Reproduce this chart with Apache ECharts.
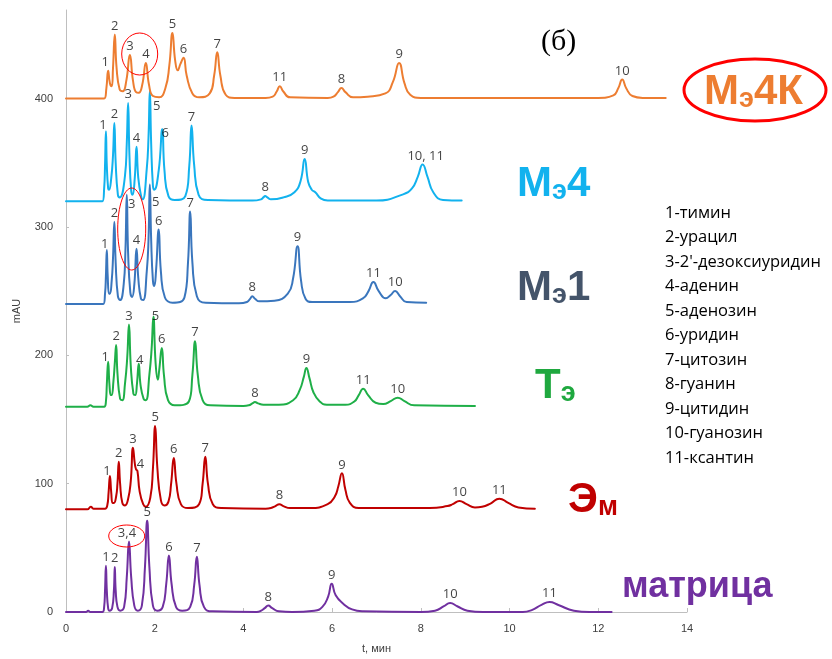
<!DOCTYPE html>
<html>
<head>
<meta charset="utf-8">
<script src="https://cdn.jsdelivr.net/npm/echarts@6/dist/echarts.min.js"></script>
<style>
  html, body { margin: 0; padding: 0; background: #fff; }
  #chart { width: 832px; height: 659px; }
</style>
</head>
<body>
<div id="chart"></div>
<script>
// Chromatograms: [time, min ; signal above own baseline, mAU]
const matrixTrace = [[0,0],[0.45,0],[0.50,1],[0.55,0],[0.82,0],[0.86,4],[0.88,17],[0.90,36],[0.92,17],[0.95,3],[0.98,1],[1.04,3],[1.08,17],[1.10,35],[1.12,17],[1.16,4],[1.22,1],[1.31,4],[1.37,27],[1.42,55],[1.47,27],[1.54,5],[1.62,1],[1.71,5],[1.78,35],[1.83,71],[1.88,35],[1.96,5],[2.06,1],[2.18,4],[2.26,22],[2.32,44],[2.38,22],[2.48,4],[2.62,1],[2.80,4],[2.89,21],[2.95,43],[3.01,21],[3.11,4],[3.30,0.5],[4.30,0],[4.40,1],[4.48,3],[4.56,5],[4.65,3],[4.80,0.5],[5.10,0],[5.60,1],[5.78,4],[5.91,12],[5.99,22],[6.08,13],[6.25,6.5],[6.45,2],[6.70,0.5],[8.00,0],[8.32,1],[8.52,4.5],[8.66,7],[8.82,4.5],[9.05,1],[9.40,0],[10.30,0],[10.50,1.5],[10.72,5.5],[10.90,7.8],[11.10,5.5],[11.45,1],[11.80,0],[12.30,0]];
const emTrace = [[0,0],[0.48,0],[0.56,2],[0.62,0.5],[0.88,0.5],[0.93,3],[0.96,13],[0.99,26],[1.02,13],[1.05,5],[1.08,5],[1.13,10],[1.16,20],[1.19,37],[1.22,20],[1.27,5],[1.33,3],[1.40,8],[1.46,22],[1.51,48],[1.55,36],[1.58,31],[1.61,30],[1.66,14],[1.74,4],[1.80,2],[1.90,9],[1.96,32],[2.01,65],[2.06,32],[2.14,7],[2.22,3],[2.31,6],[2.37,20],[2.43,40],[2.49,20],[2.59,4],[2.75,1],[3.00,4],[3.08,20],[3.14,41],[3.20,20],[3.31,4],[3.50,1],[4.50,0.5],[4.62,1],[4.72,2.5],[4.81,4],[4.90,2.5],[5.05,1],[5.50,1],[5.90,4],[6.06,10],[6.14,18],[6.22,28],[6.30,15],[6.40,5],[6.60,1],[8.20,1],[8.60,2.5],[8.72,4],[8.87,6.5],[9.03,4],[9.22,1.5],[9.38,2],[9.57,4.5],[9.77,8.3],[9.97,5],[10.20,1.5],[10.57,0.5]];
const teTrace = [[0,0],[0.48,0],[0.55,1],[0.62,0],[0.86,0],[0.90,4],[0.92,17],[0.95,35],[0.98,17],[1.01,9],[1.03,9],[1.07,20],[1.10,34],[1.13,48],[1.16,26],[1.22,6],[1.27,5],[1.33,18],[1.38,38],[1.42,64],[1.46,32],[1.52,10],[1.56,9],[1.60,18],[1.64,33.5],[1.68,17],[1.75,6],[1.80,5],[1.88,25],[1.93,45],[1.97,70],[2.02,34],[2.07,21],[2.10,28],[2.16,45.6],[2.21,24],[2.30,5],[2.45,1],[2.77,4],[2.85,25],[2.91,51],[2.97,25],[3.08,5],[3.25,1],[4.00,0.5],[4.12,1],[4.20,2.5],[4.26,3.6],[4.33,2.5],[4.45,1.5],[4.80,1.5],[5.12,5],[5.27,13],[5.36,23],[5.42,30],[5.49,22],[5.58,11],[5.72,4],[5.88,1.5],[6.30,1.5],[6.50,4],[6.60,9],[6.70,14],[6.81,9],[6.98,3],[7.15,2],[7.33,4.5],[7.48,7],[7.62,4.5],[7.85,1],[9.22,0.5]];
const me1Trace = [[0,0],[0.84,0],[0.88,8],[0.90,22],[0.92,42],[0.94,22],[0.97,8],[0.99,8],[1.03,18],[1.06,36],[1.09,64],[1.12,32],[1.17,6],[1.22,3],[1.30,15],[1.34,42],[1.37,85],[1.40,40],[1.45,9],[1.49,5.5],[1.54,15],[1.59,43],[1.63,20],[1.69,4],[1.74,3],[1.82,25],[1.86,50],[1.89,93],[1.92,50],[1.96,18],[1.99,14],[2.03,26],[2.09,58],[2.14,25],[2.23,5],[2.40,1],[2.67,5],[2.75,32],[2.80,72],[2.85,32],[2.95,6],[3.15,1],[3.90,0.5],[4.08,1.5],[4.15,4],[4.20,6],[4.26,4],[4.36,2],[4.70,2.5],[5.00,8],[5.12,20],[5.22,45],[5.30,18],[5.40,4],[5.55,1.5],[6.40,1.5],[6.70,4.5],[6.82,10],[6.93,17],[7.05,10],[7.21,4.4],[7.32,7],[7.42,10],[7.53,6],[7.68,1.5],[8.12,1]];
const me4Trace = [[0,0],[0.82,0],[0.86,10],[0.88,28],[0.90,54.6],[0.92,28],[0.95,10],[0.97,9],[1.02,18],[1.06,36],[1.09,61],[1.12,30],[1.17,5],[1.21,3],[1.33,20],[1.37,45],[1.40,76.6],[1.43,36],[1.47,8],[1.50,5],[1.55,18],[1.59,42.5],[1.63,18],[1.70,3],[1.73,1.5],[1.82,25],[1.86,50],[1.89,86],[1.92,45],[1.96,12],[1.99,9],[2.09,24],[2.17,56],[2.22,24],[2.31,4],[2.45,1],[2.69,4],[2.78,28],[2.83,59],[2.89,28],[2.99,5],[3.20,1],[4.20,0.5],[4.40,1.5],[4.45,3],[4.49,4],[4.54,3],[4.62,1.5],[4.90,3],[5.15,7],[5.29,16],[5.38,33],[5.46,15],[5.54,9],[5.62,7],[5.75,2],[5.90,0.5],[7.00,0.5],[7.60,5.4],[7.80,10],[7.93,19],[8.04,28.7],[8.15,19],[8.28,7],[8.50,1],[8.92,0.5]];
const me4kTrace = [[0,0],[0.86,0],[0.91,8],[0.95,21.7],[0.99,12],[1.03,9.6],[1.06,24],[1.10,50],[1.14,24],[1.21,7],[1.28,5.7],[1.36,14],[1.44,34],[1.51,14],[1.58,5],[1.64,4.5],[1.72,11],[1.80,27.7],[1.87,11],[1.96,2],[2.10,1],[2.24,8],[2.33,26],[2.40,51],[2.46,30],[2.52,22],[2.58,27],[2.65,31.8],[2.72,18],[2.85,4],[3.00,1],[3.24,4],[3.34,18],[3.41,36],[3.48,18],[3.60,3],[3.80,0.5],[4.50,0.5],[4.66,1.5],[4.75,5.5],[4.82,9.6],[4.90,5.5],[5.05,1],[5.90,0.5],[6.03,1.5],[6.13,5],[6.21,8.3],[6.30,5],[6.47,1],[6.80,1.5],[7.20,4],[7.37,13],[7.51,27.7],[7.63,12],[7.76,3],[8.00,0.5],[12.00,0.5],[12.34,2.5],[12.45,8],[12.54,14.8],[12.63,8],[12.77,2],[13.00,0.5],[13.52,0.5]];

// Peak numbers: [apex time, apex height, number]
const matrixPeaks = [[0.90,36,'1'],[1.10,35,'2'],[1.42,55,'3,4'],[1.83,71,'5'],[2.32,44,'6'],[2.95,43,'7'],[4.56,5,'8'],[5.99,22,'9'],[8.66,7,'10'],[10.90,7.8,'11']];
const emPeaks = [[0.99,26,'1'],[1.19,37,'2'],[1.51,48,'3'],[1.61,30,'4'],[2.01,65,'5'],[2.43,40,'6'],[3.14,41,'7'],[4.81,4,'8'],[6.22,28,'9'],[8.87,6.5,'10'],[9.77,8.3,'11']];
const tePeaks = [[0.95,35,'1'],[1.13,48,'2'],[1.42,64,'3'],[1.64,33.5,'4'],[1.97,70,'5'],[2.16,45.6,'6'],[2.91,51,'7'],[4.26,3.6,'8'],[5.42,30,'9'],[6.70,14,'11'],[7.48,7,'10']];
const me1Peaks = [[0.92,42,'1'],[1.09,64,'2'],[1.37,85,'3'],[1.59,43,'4'],[1.89,93,'5'],[2.09,58,'6'],[2.80,72,'7'],[4.20,6,'8'],[5.22,45,'9'],[6.93,17,'11'],[7.42,10,'10']];
const me4Peaks = [[0.90,54.6,'1'],[1.09,61,'2'],[1.40,76.6,'3'],[1.59,42.5,'4'],[1.89,86,'5'],[2.17,56,'6'],[2.83,59,'7'],[4.49,4,'8'],[5.38,33,'9'],[8.04,28.7,'10, 11']];
const me4kPeaks = [[0.95,21.7,'1'],[1.10,50,'2'],[1.44,34,'3'],[1.80,27.7,'4'],[2.40,51,'5'],[2.65,31.8,'6'],[3.41,36,'7'],[4.82,9.6,'11'],[6.21,8.3,'8'],[7.51,27.7,'9'],[12.54,14.8,'10']];

// Vertical shift of each chromatogram, mAU
const traceOffsets = [0, 80, 160, 240, 320, 400];
const yTicks = [0, 100, 200, 300, 400];
const xTicks = [0, 2, 4, 6, 8, 10, 12, 14];

const compounds = ['1-тимин', '2-урацил', "3-2'-дезоксиуридин", '4-аденин', '5-аденозин',
  '6-уридин', '7-цитозин', '8-гуанин', '9-цитидин', '10-гуанозин', '11-ксантин'];

const traces = [
  { id: 'matrix', data: matrixTrace, peaks: matrixPeaks, color: '#7030A0' },
  { id: 'em', data: emTrace, peaks: emPeaks, color: '#C00000' },
  { id: 'te', data: teTrace, peaks: tePeaks, color: '#1FAF48' },
  { id: 'me1', data: me1Trace, peaks: me1Peaks, color: '#3A76BD' },
  { id: 'me4', data: me4Trace, peaks: me4Peaks, color: '#12B2EE' },
  { id: 'me4k', data: me4kTrace, peaks: me4kPeaks, color: '#ED7D31' }
];

// pixel nudges for crowded peak numbers
const labelNudge = {
  'me4k:1': [-3, 0],
  'me4:1': [-3, 3], 'me4:5': [7, 24], 'me4:6': [3, 12], 'me4:10, 11': [3, 0],
  'me1:1': [-2, 3], 'me1:3': [5, 18], 'me1:5': [6, 26],
  'te:1': [-3, 4], 'te:4': [1, 5], 'te:5': [2, 8],
  'em:1': [-3, 4], 'em:4': [3, 2],
  'matrix:3,4': [-2, 0]
};

const series = [];
traces.forEach((tr, i) => {
  const off = traceOffsets[i];
  series.push({
    type: 'line',
    name: tr.id,
    data: tr.data.map(p => [p[0], p[1] + off]),
    showSymbol: false,
    smooth: 0.5,
    silent: true,
    lineStyle: { color: tr.color, width: 2, join: 'round', cap: 'round' },
    z: 2 + i
  });
  series.push({
    type: 'scatter',
    name: tr.id + '-labels',
    silent: true,
    symbolSize: 0,
    itemStyle: { color: 'transparent' },
    z: 10,
    data: tr.peaks.map(p => ({
      value: [p[0], p[1] + off],
      label: {
        show: true,
        position: 'top',
        distance: 2,
        formatter: p[2],
        offset: labelNudge[tr.id + ':' + p[2]] || [0, 0]
      }
    })),
    label: { color: '#111111', fontSize: 13, fontFamily: 'Open Sans' }
  });
});

function nameText(left, top, parts, color, size, subSize) {
  const rich = {
    b: { fontSize: size, fontWeight: 'bold', fontFamily: 'Liberation Sans', fill: color, lineHeight: size },
    s: { fontSize: subSize, fontWeight: 'bold', fontFamily: 'Liberation Sans', fill: color, lineHeight: 12, verticalAlign: 'bottom' }
  };
  return { type: 'text', left: left, top: top, z: 20, style: { text: parts, rich: rich } };
}

const chart = echarts.init(document.getElementById('chart'), null, { renderer: 'canvas' });
chart.setOption({
  animation: false,
  backgroundColor: '#ffffff',
  grid: { left: 66, right: 145, top: 10, bottom: 45 },
  xAxis: {
    type: 'value',
    min: 0, max: 14, interval: 2,
    name: 't, мин',
    nameLocation: 'middle',
    nameGap: 31,
    nameTextStyle: { color: '#404040', fontSize: 11, fontFamily: 'Liberation Sans' },
    axisLine: { show: true, lineStyle: { color: '#BFBFBF', width: 1 } },
    axisTick: { show: true, inside: true, length: 4, lineStyle: { color: '#BFBFBF' } },
    axisLabel: { color: '#404040', fontSize: 11, fontFamily: 'Liberation Sans', margin: 11,
      formatter: v => (xTicks.indexOf(v) >= 0 ? String(v) : '') },
    splitLine: { show: false }
  },
  yAxis: {
    type: 'value',
    min: 0, max: 469, interval: 100,
    name: 'mAU',
    nameLocation: 'middle',
    nameGap: 44,
    nameTextStyle: { color: '#404040', fontSize: 11, fontFamily: 'Liberation Sans' },
    axisLine: { show: true, lineStyle: { color: '#BFBFBF', width: 1 } },
    axisTick: { show: true, inside: true, length: 3, lineStyle: { color: '#BFBFBF' } },
    axisLabel: { color: '#404040', fontSize: 11, fontFamily: 'Liberation Sans', margin: 13,
      showMaxLabel: false,
      formatter: v => (yTicks.indexOf(v) >= 0 ? String(v) : '') },
    splitLine: { show: false }
  },
  series: series,
  graphic: [
    { type: 'text', left: 541, top: 27, z: 20,
      style: { text: '(б)', fontFamily: 'Liberation Serif', fontSize: 30, fill: '#000' } },
    nameText(704, 71, '{b|М}{s|э}{b|4К}', '#ED7D31', 42, 27),
    nameText(517, 163, '{b|М}{s|э}{b|4}', '#12B2EE', 42, 27),
    nameText(517, 267, '{b|М}{s|э}{b|1}', '#44546A', 42, 27),
    nameText(535, 365, '{b|Т}{s|э}', '#1FA83F', 42, 27),
    nameText(568, 479, '{b|Э}{s|м}', '#C00000', 42, 27),
    { type: 'text', left: 622, top: 569, z: 20,
      style: { text: 'матрица', fontFamily: 'Liberation Sans', fontWeight: 'bold', fontSize: 36, fill: '#7030A0' } },
    { type: 'text', left: 665, top: 201, z: 20,
      style: { text: compounds.join('\n'), fontFamily: 'Open Sans', fontSize: 16.5, lineHeight: 24.5, fill: '#000' } },
    // red marks around the 3/4 pair and the sample name
    { type: 'ellipse', z: 15, shape: { cx: 139.7, cy: 54, rx: 18, ry: 21 },
      style: { fill: 'none', stroke: '#FF0000', lineWidth: 1 } },
    { type: 'ellipse', z: 15, shape: { cx: 131.7, cy: 229, rx: 14, ry: 41 },
      style: { fill: 'none', stroke: '#FF0000', lineWidth: 1 } },
    { type: 'ellipse', z: 15, shape: { cx: 126.7, cy: 536, rx: 18, ry: 11 },
      style: { fill: 'none', stroke: '#FF0000', lineWidth: 1 } },
    { type: 'ellipse', z: 15, shape: { cx: 755, cy: 90, rx: 71, ry: 31 },
      style: { fill: 'none', stroke: '#FF0000', lineWidth: 3 } }
  ]
});
</script>
</body>
</html>
